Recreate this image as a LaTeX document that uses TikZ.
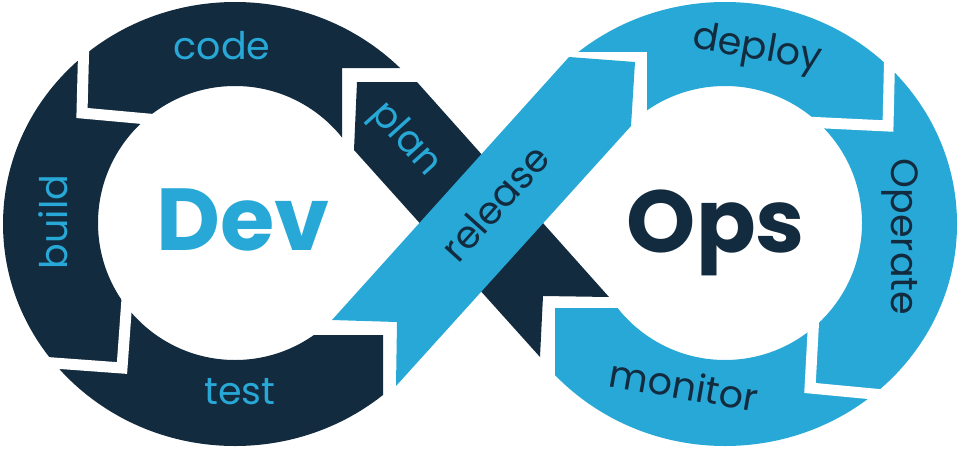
\documentclass[tikz,border=0pt]{standalone}
\usepackage{fontspec}
\setmainfont{Poppins}
\usepackage{tikz}

\definecolor{devblue}{HTML}{27A8D6}
\definecolor{devnavy}{HTML}{132B3F}

\begin{document}
\begin{tikzpicture}[x=1pt,y=-1pt,
	stage/.style={inner sep=0pt,font=\fontsize{38}{38}\selectfont},
	loopname/.style={inner sep=0pt,font=\fontsize{88}{88}\selectfont\bfseries},
	gap/.style={white,line width=11pt,line join=miter}]
	\useasboundingbox (0,0) rectangle (960,460);
	% Dev loop: code, build, test
	\begin{scope}
		\clip (-20,-20) -- (600,-20) -- (600,68) -- (342,68) -- (342,250) -- (280,335) -- (383,335) -- (383,600) -- (-20,600) -- cycle;
		\fill[devnavy,even odd rule] (235,224) ellipse [x radius=232,y radius=222] (235,223) circle [radius=137];
	\end{scope}
	% Ops loop: deploy, Operate, monitor
	\begin{scope}
		\clip (980,-20) -- (500,-20) -- (500,52) -- (647,52) -- (647,150) -- (660,308) -- (555,308) -- (555,600) -- (980,600) -- cycle;
		\fill[devblue,even odd rule] (725,224) ellipse [x radius=232,y radius=222] (725,223) circle [radius=137];
	\end{scope}
	% gaps between the arrows
	\draw[gap] (84,35) -- (82,113) -- (170,121);
	\draw[gap] (40,362) -- (122,368) -- (128,285);
	\draw[gap] (890,40) -- (888,126) -- (805,122);
	\draw[gap] (815,295) -- (810,388) -- (905,397);
	% crossing bands
	\fill[devnavy] (357,82) -- (417,82) -- (609,297) -- (543,296) -- (540,357) -- (354,150) -- cycle;
	\fill[devblue] (332,320) -- (569,57) -- (635,62) -- (631,126) -- (396,386) -- (397,322) -- cycle;
	% labels
	\node[stage,devblue] (code) at (222,46) {code};
	\node[stage,devblue,rotate=90] (build) at (53,222) {build};
	\node[stage,devblue] (test) at (240,392) {test};
	\node[stage,devblue,rotate=-48] (plan) at (405,140) {plan};
	\node[stage,devnavy,rotate=48] (release) at (495,203) {release};
	\node[stage,devnavy,rotate=-10] (deploy) at (757,50) {deploy};
	\node[stage,devnavy,rotate=-90] (operate) at (900,237) {Operate};
	\node[stage,devnavy,rotate=-10] (monitor) at (684,385) {monitor};
	\node[loopname,devblue,anchor=base] (dev) at (243,250) {Dev};
	\node[loopname,devnavy,anchor=base] (ops) at (716,252) {Ops};
\end{tikzpicture}
\end{document}
